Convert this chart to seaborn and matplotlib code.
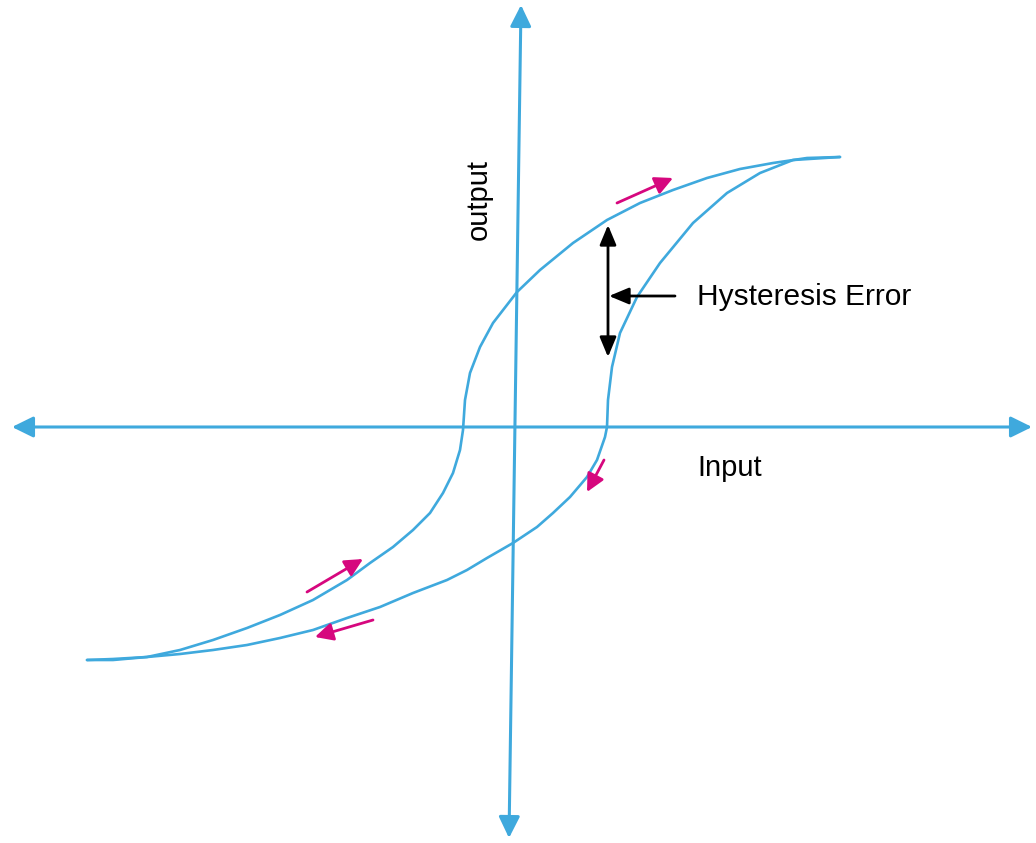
import numpy as np
import pandas as pd
import seaborn as sns
import matplotlib
matplotlib.use("Agg")
import matplotlib.pyplot as plt

# loop branches (input, output)
rise_x = [-4.27, -4.01, -3.67, -3.34, -3.01, -2.67, -2.34, -2.01, -1.67, -1.44,
          -1.21, -1.01, -0.84, -0.71, -0.61, -0.54, -0.51, -0.49, -0.44, -0.34,
          -0.21, 0.03, 0.26, 0.59, 0.93, 1.26, 1.59, 1.93, 2.26, 2.59, 2.93, 3.26]
rise_y = [-2.33, -2.33, -2.30, -2.23, -2.13, -2.01, -1.88, -1.73, -1.53, -1.36,
          -1.20, -1.03, -0.86, -0.66, -0.46, -0.23, -0.03, 0.27, 0.54, 0.80,
          1.04, 1.35, 1.57, 1.84, 2.07, 2.24, 2.37, 2.49, 2.58, 2.64, 2.69, 2.70]
fall_x = [3.26, 2.79, 2.46, 2.13, 1.79, 1.46, 1.23, 1.06, 0.98, 0.94, 0.93,
          0.91, 0.83, 0.73, 0.56, 0.39, 0.23, -0.01, -0.27, -0.47, -0.67,
          -1.01, -1.34, -1.67, -2.01, -2.34, -2.67, -3.01, -3.34, -3.67,
          -4.01, -4.27]
fall_y = [2.70, 2.67, 2.54, 2.34, 2.04, 1.64, 1.30, 0.94, 0.60, 0.27, 0.00,
          -0.10, -0.33, -0.50, -0.70, -0.86, -1.00, -1.16, -1.31, -1.43, -1.53,
          -1.66, -1.80, -1.91, -2.03, -2.11, -2.18, -2.23, -2.27, -2.30,
          -2.32, -2.33]

# axis lines (start, end)
x_axis = [(-5.02, 0.0), (5.18, 0.0)]
y_axis = [(-0.05, -4.11), (0.07, 4.22)]

# direction arrows along the loop (tail, head)
dir_arrows = [((1.03, 2.24), (1.59, 2.49)),
              ((-2.07, -1.65), (-1.51, -1.32)),
              ((-1.41, -1.93), (-1.99, -2.10)),
              ((0.90, -0.33), (0.73, -0.65))]

# hysteresis error marker
err_top = (0.94, 2.02)
err_bottom = (0.94, 0.70)
err_pointer = ((1.61, 1.31), (0.95, 1.31))

blue = "#3FA9DD"
pink = "#D6077E"

sns.set_theme(style="white")
plt.rcParams['font.family'] = ['Liberation Sans', 'DejaVu Sans']

fig = plt.figure(figsize=(10.36, 8.43), dpi=100)
ax = fig.add_axes([0, 0, 1, 1])
ax.set_xlim(-5.14, 5.22)
ax.set_ylim(-4.16, 4.27)
ax.axis("off")

rise = pd.DataFrame({"x": rise_x, "y": rise_y})
fall = pd.DataFrame({"x": fall_x, "y": fall_y})
for branch in (rise, fall):
    sns.lineplot(data=branch, x="x", y="y", sort=False, estimator=None, ax=ax,
                 color=blue, linewidth=1.9, solid_joinstyle="round",
                 solid_capstyle="round")

for a, b in (x_axis, y_axis):
    ax.annotate("", xy=b, xytext=a,
                arrowprops=dict(arrowstyle="<|-|>,head_length=0.65,head_width=0.32",
                                color=blue, lw=2.2, mutation_scale=20,
                                shrinkA=0, shrinkB=0))

for tail, head in dir_arrows:
    ax.annotate("", xy=head, xytext=tail,
                arrowprops=dict(arrowstyle="-|>,head_length=0.6,head_width=0.3",
                                color=pink, lw=2.0, mutation_scale=18,
                                shrinkA=0, shrinkB=0))

ax.annotate("", xy=err_top, xytext=err_bottom,
            arrowprops=dict(arrowstyle="<|-|>,head_length=0.6,head_width=0.25",
                            color="black", lw=2.0, mutation_scale=20,
                            shrinkA=0, shrinkB=0))
ax.annotate("", xy=err_pointer[1], xytext=err_pointer[0],
            arrowprops=dict(arrowstyle="-|>,head_length=0.6,head_width=0.25",
                            color="black", lw=2.0, mutation_scale=20,
                            shrinkA=0, shrinkB=0))

ax.text(1.83, 1.30, "Hysteresis Error", fontsize=21.5, color="black",
        ha="left", va="center")
ax.text(1.83, -0.41, "Input", fontsize=21, color="black",
        ha="left", va="center")
ax.text(-0.35, 2.27, "output", fontsize=21, color="black",
        ha="center", va="center", rotation=90)

fig.savefig("out.png", dpi=100)
